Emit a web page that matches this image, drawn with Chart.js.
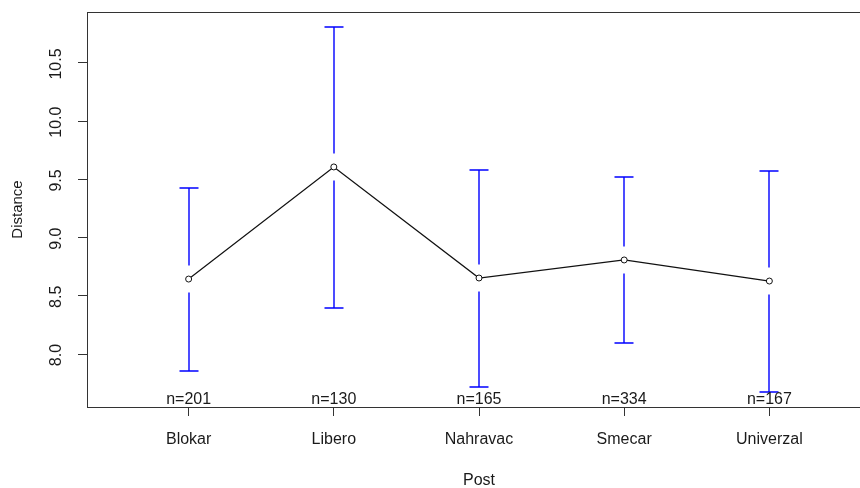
<!DOCTYPE html>
<html>
<head>
<meta charset="utf-8">
<script src="https://cdn.jsdelivr.net/npm/chart.js@4.4.0/dist/chart.umd.min.js"></script>
<style>
  html, body { margin: 0; padding: 0; background: #fff; overflow: hidden; }
  #wrap { width: 880px; height: 488px; }
</style>
</head>
<body>
<div id="wrap"><canvas id="meansChart" width="880" height="488"></canvas></div>
<script>
// Means with confidence intervals per post
const posts = ['Blokar', 'Libero', 'Nahravac', 'Smecar', 'Univerzal'];
const means = [8.644, 9.607, 8.653, 8.808, 8.627];
const upper = [9.426, 10.809, 9.581, 9.521, 9.572];
const lower = [7.854, 8.395, 7.717, 8.094, 7.674];
const counts = [201, 130, 165, 334, 167];
const yTicks = [8.0, 8.5, 9.0, 9.5, 10.0, 10.5];

const textFont = '16px "Liberation Sans", Arial, sans-serif';

// Draws the error bars, the n= labels, the rotated y tick labels and the box
const meansPlugin = {
    id: 'meansPlugin',
    afterDatasetsDraw(chart) {
        const ctx = chart.ctx;
        const xs = chart.scales.x;
        const ys = chart.scales.y;
        const area = chart.chartArea;
        const gap = 13.5;
        const cap = 9.5;

        ctx.save();
        ctx.strokeStyle = '#0000ff';
        ctx.lineWidth = 1.4;
        posts.forEach((p, i) => {
            const x = Math.round(xs.getPixelForValue(i + 1));
            const yU = Math.round(ys.getPixelForValue(upper[i]));
            const yM = ys.getPixelForValue(means[i]);
            const yL = Math.round(ys.getPixelForValue(lower[i]));
            ctx.beginPath();
            if (yU < yM - gap) {
                ctx.moveTo(x, yU);
                ctx.lineTo(x, yM - gap);
            }
            if (yL > yM + gap) {
                ctx.moveTo(x, yM + gap);
                ctx.lineTo(x, yL);
            }
            ctx.moveTo(x - cap, yU);
            ctx.lineTo(x + cap, yU);
            ctx.moveTo(x - cap, yL);
            ctx.lineTo(x + cap, yL);
            ctx.stroke();
        });

        // n= labels along the bottom of the plot
        ctx.fillStyle = '#1a1a1a';
        ctx.font = textFont;
        ctx.textAlign = 'center';
        ctx.textBaseline = 'alphabetic';
        counts.forEach((n, i) => {
            ctx.fillText('n=' + n, xs.getPixelForValue(i + 1), area.bottom - 3);
        });

        // rotated y tick labels
        yTicks.forEach(v => {
            const y = ys.getPixelForValue(v);
            ctx.save();
            ctx.translate(57, y + 1);
            ctx.rotate(-Math.PI / 2);
            ctx.textBaseline = 'middle';
            ctx.fillText(v.toFixed(1), 0, 0);
            ctx.restore();
        });

        // plot box
        ctx.strokeStyle = '#333';
        ctx.lineWidth = 1;
        ctx.strokeRect(Math.round(area.left) + 0.5, Math.round(area.top) + 0.5,
            Math.round(area.right - area.left), Math.round(area.bottom - area.top));
        ctx.restore();
    }
};

function initializeChart() {
    const ctx = document.getElementById('meansChart').getContext('2d');
    new Chart(ctx, {
        type: 'line',
        data: {
            datasets: [{
                data: means.map((m, i) => ({ x: i + 1, y: m })),
                borderColor: '#111',
                borderWidth: 1.2,
                pointRadius: 3,
                pointBorderWidth: 1,
                pointBorderColor: '#111',
                pointBackgroundColor: '#fff',
                tension: 0
            }]
        },
        options: {
            responsive: false,
            animation: false,
            devicePixelRatio: 1,
            layout: { padding: { top: 12, right: 9, left: 0, bottom: 0 } },
            plugins: {
                legend: { display: false },
                tooltip: { enabled: false }
            },
            scales: {
                x: {
                    type: 'linear',
                    min: 0.3,
                    max: 5.7,
                    afterBuildTicks: scale => {
                        scale.ticks = posts.map((p, i) => ({ value: i + 1 }));
                    },
                    afterFit: scale => { scale.height = 81; },
                    border: { display: false },
                    grid: { drawOnChartArea: false, drawTicks: true, tickLength: 9, color: '#333' },
                    ticks: {
                        autoSkip: false,
                        maxRotation: 0,
                        padding: 14,
                        color: '#1a1a1a',
                        font: { family: '"Liberation Sans", Arial, sans-serif', size: 16 },
                        callback: v => posts[v - 1]
                    },
                    title: {
                        display: true,
                        text: 'Post',
                        color: '#1a1a1a',
                        font: { family: '"Liberation Sans", Arial, sans-serif', size: 16, lineHeight: 1 },
                        padding: { top: 0, bottom: -1 }
                    }
                },
                y: {
                    min: 7.545,
                    max: 10.938,
                    afterBuildTicks: scale => {
                        scale.ticks = yTicks.map(v => ({ value: v }));
                    },
                    afterFit: scale => { scale.width = 87; },
                    border: { display: false },
                    grid: { drawOnChartArea: false, drawTicks: true, tickLength: 9, color: '#333' },
                    ticks: { display: false },
                    title: {
                        display: true,
                        text: 'Distance',
                        color: '#1a1a1a',
                        font: { family: '"Liberation Sans", Arial, sans-serif', size: 15, lineHeight: 1 },
                        padding: { top: 10, bottom: 0 }
                    }
                }
            }
        },
        plugins: [meansPlugin]
    });
}

window.onload = () => {
    initializeChart();
};
</script>
</body>
</html>
